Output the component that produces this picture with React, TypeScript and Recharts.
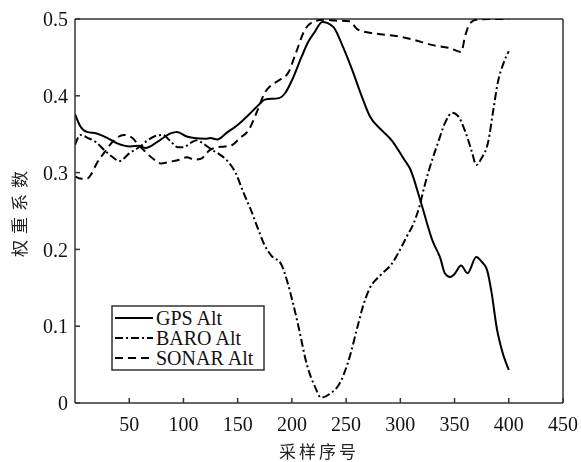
import React from 'react';
import { LineChart, Line, XAxis, YAxis, Legend, ReferenceLine } from 'recharts';

// sample index / weight pairs
const gpsX = [0, 5, 11, 20, 30, 39, 51, 59, 65, 76, 88, 94, 103, 110, 120, 125, 131, 140, 150, 160, 170, 175, 188, 194, 200, 209, 215, 221, 228, 238, 247, 255, 264, 272, 283, 292, 304, 309, 318, 330, 337, 341, 346, 350, 356, 362, 370, 375, 380, 384, 389, 394, 400];
const gpsY = [0.376, 0.36, 0.353, 0.351, 0.345, 0.338, 0.334, 0.335, 0.332, 0.34, 0.351, 0.353, 0.347, 0.345, 0.344, 0.345, 0.343, 0.352, 0.362, 0.375, 0.389, 0.395, 0.397, 0.404, 0.42, 0.451, 0.47, 0.483, 0.496, 0.49, 0.464, 0.436, 0.401, 0.373, 0.355, 0.342, 0.316, 0.305, 0.266, 0.21, 0.188, 0.169, 0.164, 0.168, 0.179, 0.169, 0.19, 0.184, 0.173, 0.145, 0.097, 0.067, 0.043];

const baroX = [0, 5, 12, 19, 28, 34, 41, 50, 60, 68, 75, 81, 88, 95, 100, 107, 112, 118, 127, 133, 140, 148, 155, 162, 169, 175, 181, 190, 196, 201, 206, 214, 221, 227, 236, 243, 252, 261, 266, 271, 282, 292, 301, 306, 312, 318, 322, 327, 335, 341, 348, 353, 360, 366, 370, 375, 381, 386, 390, 395, 400];
const baroY = [0.336, 0.349, 0.345, 0.34, 0.328, 0.321, 0.315, 0.325, 0.334, 0.343, 0.348, 0.349, 0.341, 0.333, 0.333, 0.339, 0.342, 0.338, 0.329, 0.324, 0.316, 0.3, 0.275, 0.252, 0.226, 0.205, 0.192, 0.181, 0.157, 0.13, 0.1, 0.049, 0.022, 0.007, 0.013, 0.023, 0.054, 0.102, 0.128, 0.147, 0.167, 0.181, 0.203, 0.217, 0.233, 0.258, 0.281, 0.306, 0.34, 0.364, 0.378, 0.374, 0.353, 0.327, 0.31, 0.319, 0.34, 0.384, 0.418, 0.442, 0.458];

const sonarX = [0, 6, 11, 15, 20, 28, 36, 45, 53, 58, 65, 72, 79, 87, 97, 103, 110, 116, 124, 131, 138, 145, 152, 160, 168, 175, 182, 188, 197, 203, 212, 221, 229, 240, 253, 261, 277, 300, 312, 330, 346, 356, 360, 364, 370, 385, 400];
const sonarY = [0.295, 0.292, 0.292, 0.298, 0.312, 0.328, 0.342, 0.349, 0.345, 0.337, 0.327, 0.318, 0.312, 0.314, 0.317, 0.32, 0.317, 0.318, 0.329, 0.333, 0.334, 0.336, 0.345, 0.355, 0.38, 0.404, 0.415, 0.42, 0.431, 0.453, 0.486, 0.497, 0.499, 0.498, 0.497, 0.486, 0.481, 0.477, 0.473, 0.466, 0.462, 0.457, 0.479, 0.494, 0.499, 0.5, 0.5];

const xTicks = [50, 100, 150, 200, 250, 300, 350, 400, 450];
const yTicks = [0, 0.1, 0.2, 0.3, 0.4, 0.5];

const seriesNames = ['GPS Alt', 'BARO Alt', 'SONAR Alt'];
const seriesDash = ['', '8 3 2 3', '8 5'];

const zip = (xs: number[], ys: number[]) => xs.map((x, i) => ({ x, w: ys[i] }));
const seriesData = [zip(gpsX, gpsY), zip(baroX, baroY), zip(sonarX, sonarY)];

const AXIS = '#333';
const SERIF = '"Liberation Serif", "Times New Roman", serif';
const CJK = '"Noto Sans CJK SC", sans-serif';

const tickStyle = { fontFamily: SERIF, fontSize: 20, fill: '#111' };

function LegendBox() {
  return (
    <svg width={155} height={67}>
      <rect x={1} y={1} width={152} height={64} fill="#fff" stroke={AXIS} strokeWidth={1.5} />
      {seriesNames.map((name, i) => (
        <g key={name}>
          <line x1={4} x2={42} y1={13 + i * 20} y2={13 + i * 20} stroke="#000" strokeWidth={2} strokeDasharray={seriesDash[i] || undefined} />
          <text x={45} y={20 + i * 20} fontFamily={SERIF} fontSize={20} fill="#111">{name}</text>
        </g>
      ))}
    </svg>
  );
}

const YLabel = (props: any) => {
  const vb = props.viewBox;
  const cx = 18;
  const cy = vb.y + vb.height / 2;
  return (
    <text x={cx} y={cy} transform={`rotate(-90 ${cx} ${cy})`} textAnchor="middle" dominantBaseline="central"
      fontFamily={CJK} fontSize={17} letterSpacing={6} fill="#222">权重系数</text>
  );
};

const XLabel = (props: any) => {
  const vb = props.viewBox;
  const cx = vb.x + vb.width / 2;
  return (
    <text x={cx} y={450} textAnchor="middle" dominantBaseline="central"
      fontFamily={CJK} fontSize={17} letterSpacing={3} fill="#222">采样序号</text>
  );
};

export default function App() {
  return (
    <div style={{ position: 'fixed', left: 0, top: 0 }}>
      <LineChart width={581} height={462} margin={{ top: 19, right: 18, bottom: 29, left: 15 }}>
        <XAxis
          type="number"
          dataKey="x"
          domain={[0, 450]}
          ticks={xTicks}
          allowDataOverflow
          tickSize={-5}
          tickMargin={19}
          tick={tickStyle}
          height={30}
          stroke={AXIS}
          strokeWidth={1.5}
          label={{ content: XLabel }}
        />
        <YAxis
          type="number"
          dataKey="w"
          domain={[0, 0.5]}
          ticks={yTicks}
          allowDataOverflow
          tickSize={-5}
          tickMargin={12}
          tick={tickStyle}
          width={60}
          stroke={AXIS}
          strokeWidth={1.5}
          label={{ content: YLabel }}
        />
        <ReferenceLine y={0.5} stroke={AXIS} strokeWidth={1.5} />
        <ReferenceLine x={450} stroke={AXIS} strokeWidth={1.5} />
        {seriesData.map((d, i) => (
          <Line
            key={seriesNames[i]}
            data={d}
            dataKey="w"
            name={seriesNames[i]}
            type="monotone"
            stroke="#000"
            strokeWidth={2}
            strokeDasharray={seriesDash[i] || undefined}
            dot={false}
            isAnimationActive={false}
          />
        ))}
        <Legend
          layout="vertical"
          align="center"
          verticalAlign="middle"
          wrapperStyle={{ left: 111, top: 305, width: 155, height: 67 }}
          content={() => <LegendBox />}
        />
      </LineChart>
    </div>
  );
}
